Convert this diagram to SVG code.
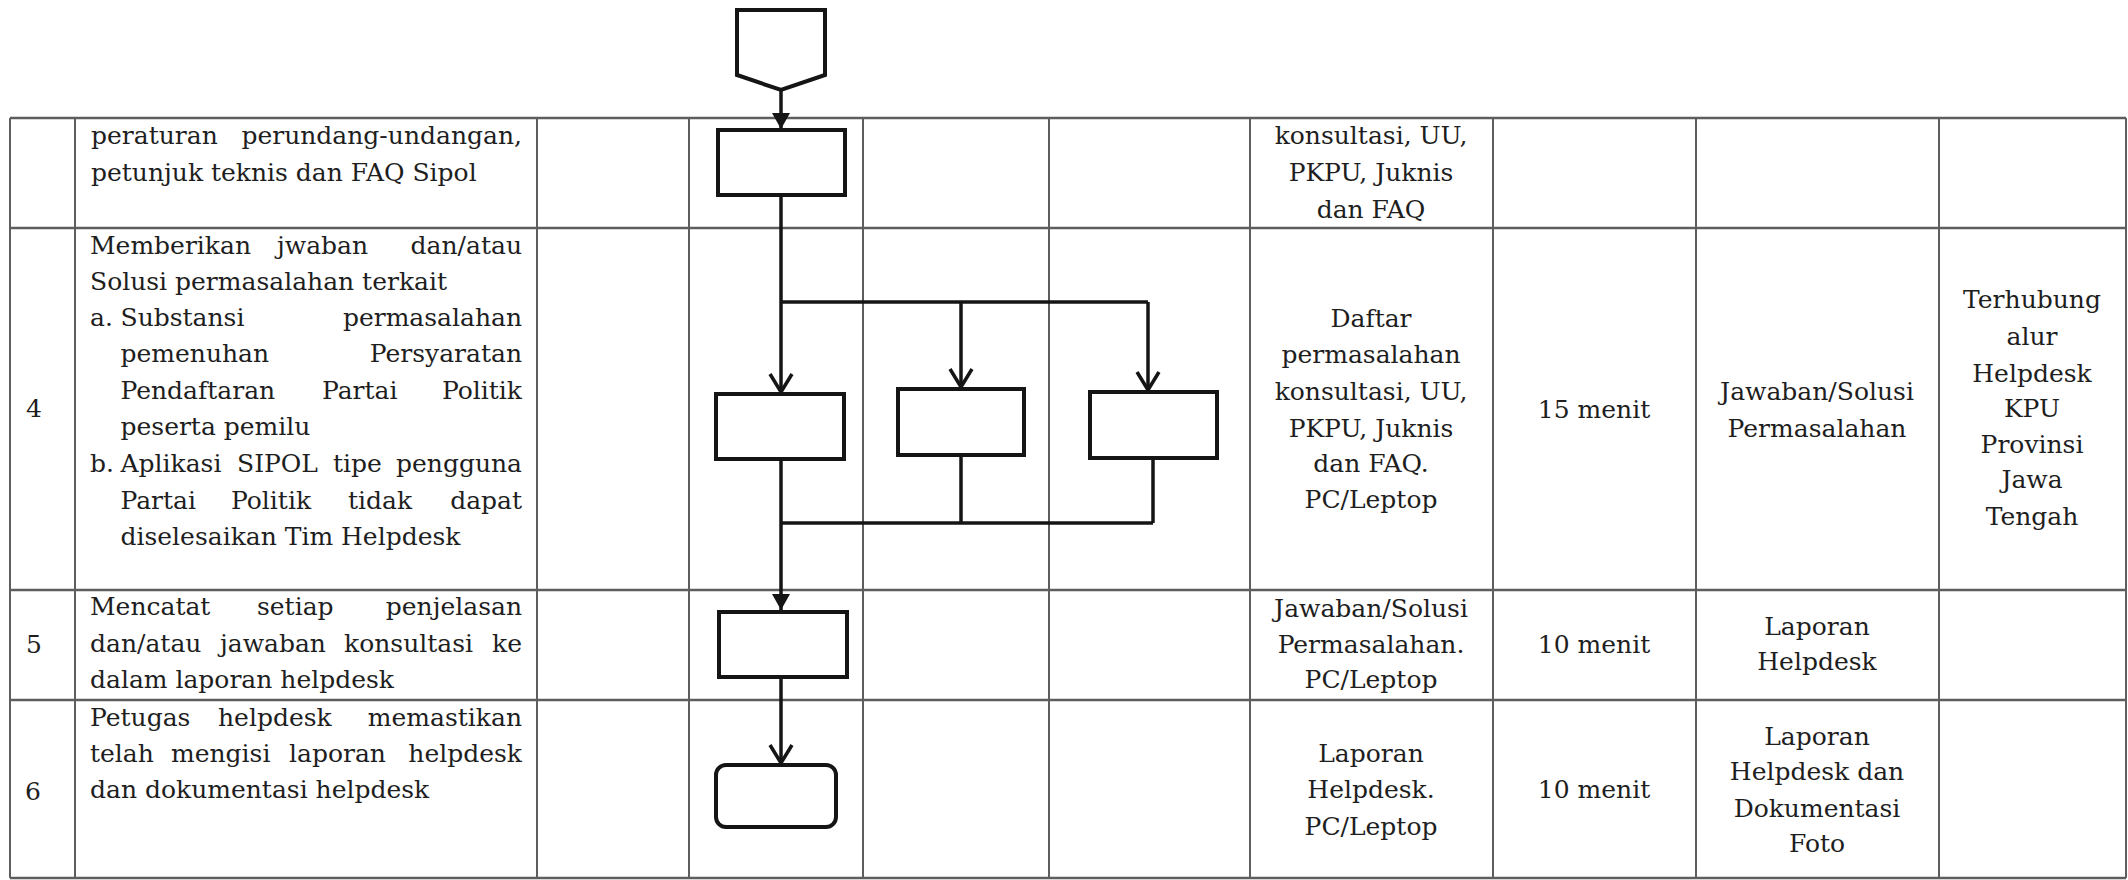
<svg xmlns="http://www.w3.org/2000/svg" width="2128" height="880" viewBox="0 0 2128 880">
<style>
.grid line{stroke:#5e5e5e;stroke-width:2}
.grid .h{stroke-width:2.6}
text{font-family:"DejaVu Serif","Liberation Serif",serif;font-size:25px;fill:#1e1e1e}
.c{text-anchor:middle}
.e{text-anchor:end}
.shape{fill:#fff;stroke:#151515;stroke-width:4}
.conn path{fill:none;stroke:#151515;stroke-width:3.5}
</style>
<defs>
<marker id="chev" markerUnits="userSpaceOnUse" viewBox="-20 -13 23 26" refX="0" refY="0" markerWidth="23" markerHeight="26" orient="auto">
<path d="M-18,-11 L0,0 L-18,11" fill="none" stroke="#151515" stroke-width="3.5"/>
</marker>
<marker id="tri" markerUnits="userSpaceOnUse" viewBox="-17 -10 18 20" refX="0" refY="0" markerWidth="18" markerHeight="20" orient="auto">
<path d="M-16,-9 L0,0 L-16,9 Z" fill="#151515"/>
</marker>
</defs>
<rect width="2128" height="880" fill="#fff"/>
<g class="grid">
<line class="h" x1="10" y1="118" x2="2126" y2="118"/>
<line class="h" x1="10" y1="228" x2="2126" y2="228"/>
<line class="h" x1="10" y1="590" x2="2126" y2="590"/>
<line class="h" x1="10" y1="700" x2="2126" y2="700"/>
<line class="h" x1="10" y1="878" x2="2126" y2="878"/>
<line x1="10" y1="118" x2="10" y2="878"/>
<line x1="75" y1="118" x2="75" y2="878"/>
<line x1="537" y1="118" x2="537" y2="878"/>
<line x1="689" y1="118" x2="689" y2="878"/>
<line x1="863" y1="118" x2="863" y2="878"/>
<line x1="1049" y1="118" x2="1049" y2="878"/>
<line x1="1250" y1="118" x2="1250" y2="878"/>
<line x1="1493" y1="118" x2="1493" y2="878"/>
<line x1="1696" y1="118" x2="1696" y2="878"/>
<line x1="1939" y1="118" x2="1939" y2="878"/>
<line x1="2126" y1="118" x2="2126" y2="878"/>
</g>
<g id="texts">
<text y="144"><tspan x="91">peraturan</tspan> <tspan class="e" x="522">perundang-undangan,</tspan></text>
<text x="91" y="181">petunjuk teknis dan FAQ Sipol</text>
<text class="c" x="1371" y="144">konsultasi, UU,</text>
<text class="c" x="1371" y="181">PKPU, Juknis</text>
<text class="c" x="1371" y="218">dan FAQ</text>

<text x="26" y="417">4</text>
<text y="254"><tspan x="90">Memberikan</tspan> <tspan x="277">jwaban</tspan> <tspan class="e" x="522">dan/atau</tspan></text>
<text x="90" y="290">Solusi permasalahan terkait</text>
<text y="326"><tspan x="90">a.</tspan> <tspan x="120.5">Substansi</tspan> <tspan class="e" x="522">permasalahan</tspan></text>
<text y="362"><tspan x="120.5">pemenuhan</tspan> <tspan class="e" x="522">Persyaratan</tspan></text>
<text y="399"><tspan x="120.5">Pendaftaran</tspan> <tspan x="322">Partai</tspan> <tspan class="e" x="522">Politik</tspan></text>
<text x="120.5" y="435">peserta pemilu</text>
<text y="472"><tspan x="90">b.</tspan> <tspan x="120.5">Aplikasi</tspan> <tspan x="237">SIPOL</tspan> <tspan x="333">tipe</tspan> <tspan class="e" x="522">pengguna</tspan></text>
<text y="509"><tspan x="120.5">Partai</tspan> <tspan x="231">Politik</tspan> <tspan x="348">tidak</tspan> <tspan class="e" x="522">dapat</tspan></text>
<text x="120.5" y="545">diselesaikan Tim Helpdesk</text>
<text class="c" x="1371" y="327">Daftar</text>
<text class="c" x="1371" y="363">permasalahan</text>
<text class="c" x="1371" y="400">konsultasi, UU,</text>
<text class="c" x="1371" y="437">PKPU, Juknis</text>
<text class="c" x="1371" y="472">dan FAQ.</text>
<text class="c" x="1371" y="508">PC/Leptop</text>
<text class="c" x="1594" y="418">15 menit</text>
<text class="c" x="1817" y="400">Jawaban/Solusi</text>
<text class="c" x="1817" y="437">Permasalahan</text>
<text class="c" x="2032" y="308">Terhubung</text>
<text class="c" x="2032" y="345">alur</text>
<text class="c" x="2032" y="382">Helpdesk</text>
<text class="c" x="2032" y="417">KPU</text>
<text class="c" x="2032" y="453">Provinsi</text>
<text class="c" x="2032" y="488">Jawa</text>
<text class="c" x="2032" y="525">Tengah</text>

<text x="26" y="653">5</text>
<text y="615"><tspan x="90">Mencatat</tspan> <tspan x="257">setiap</tspan> <tspan class="e" x="522">penjelasan</tspan></text>
<text y="652"><tspan x="90">dan/atau</tspan> <tspan x="220">jawaban</tspan> <tspan x="344">konsultasi</tspan> <tspan class="e" x="522">ke</tspan></text>
<text x="90" y="688">dalam laporan helpdesk</text>
<text class="c" x="1371" y="617">Jawaban/Solusi</text>
<text class="c" x="1371" y="653">Permasalahan.</text>
<text class="c" x="1371" y="688">PC/Leptop</text>
<text class="c" x="1594" y="653">10 menit</text>
<text class="c" x="1817" y="635">Laporan</text>
<text class="c" x="1817" y="670">Helpdesk</text>

<text x="25" y="800">6</text>
<text y="726"><tspan x="90">Petugas</tspan> <tspan x="218">helpdesk</tspan> <tspan class="e" x="522">memastikan</tspan></text>
<text y="762"><tspan x="90">telah</tspan> <tspan x="171">mengisi</tspan> <tspan x="289">laporan</tspan> <tspan class="e" x="522">helpdesk</tspan></text>
<text x="90" y="798">dan dokumentasi helpdesk</text>
<text class="c" x="1371" y="762">Laporan</text>
<text class="c" x="1371" y="798">Helpdesk.</text>
<text class="c" x="1371" y="835">PC/Leptop</text>
<text class="c" x="1594" y="798">10 menit</text>
<text class="c" x="1817" y="745">Laporan</text>
<text class="c" x="1817" y="780">Helpdesk dan</text>
<text class="c" x="1817" y="817">Dokumentasi</text>
<text class="c" x="1817" y="852">Foto</text>
</g>
<g id="connectors" class="conn">
<path d="M781,90 V129" marker-end="url(#tri)"/>
<path d="M781,195 V392" marker-end="url(#chev)"/>
<path d="M780,302 H1148"/>
<path d="M961,302 V387" marker-end="url(#chev)"/>
<path d="M1148,302 V390" marker-end="url(#chev)"/>
<path d="M781,459 V610" marker-end="url(#tri)"/>
<path d="M961,455 V523"/>
<path d="M1153,458 V523"/>
<path d="M781,523 H1153"/>
<path d="M781,677 V763" marker-end="url(#chev)"/>
</g>
<g id="node-offpage"><polygon class="shape" points="737,10 825,10 825,75 781,90 737,75"/></g>
<g id="node-box1"><rect class="shape" x="718" y="130" width="127" height="65"/></g>
<g id="node-box4a"><rect class="shape" x="716" y="394" width="128" height="65"/></g>
<g id="node-box4b"><rect class="shape" x="898" y="389" width="126" height="66"/></g>
<g id="node-box4c"><rect class="shape" x="1090" y="392" width="127" height="66"/></g>
<g id="node-box5"><rect class="shape" x="719" y="612" width="128" height="65"/></g>
<g id="node-end"><rect class="shape" x="716" y="765" width="120" height="62" rx="10"/></g>
</svg>
